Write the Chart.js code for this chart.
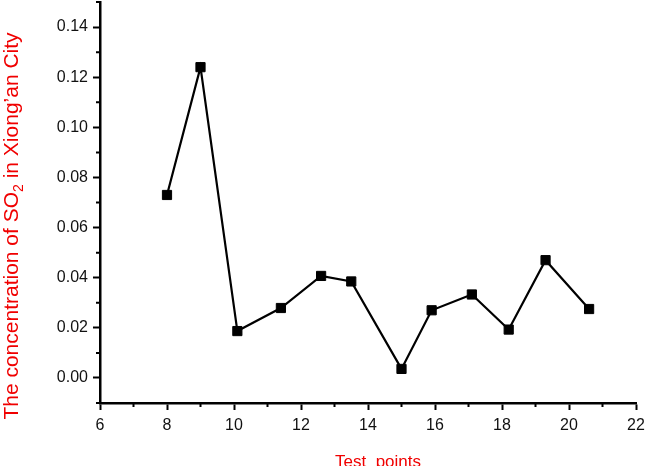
<!DOCTYPE html>
<html>
<head>
<meta charset="utf-8">
<script src="https://cdn.jsdelivr.net/npm/chart.js@4"></script>
<style>
  body { margin: 0; background: #fff; }
  canvas { display: block; }
</style>
</head>
<body>
<canvas id="so2Chart" width="649" height="466"></canvas>
<script>
// Data
const testPoints = [8, 9, 10.1, 11.4, 12.6, 13.5, 15, 15.9, 17.1, 18.2, 19.3, 20.6];
const so2Values = [0.073, 0.124, 0.0187, 0.0279, 0.0407, 0.0385, 0.0036, 0.027, 0.0333, 0.0193, 0.047, 0.0275];
const xTicks = [6, 8, 10, 12, 14, 16, 18, 20, 22];
const xMinorTicks = [7, 9, 11, 13, 15, 17, 19, 21];
const yTicks = [0, 0.02, 0.04, 0.06, 0.08, 0.10, 0.12, 0.14];
const yMinorTicks = [-0.01, 0.01, 0.03, 0.05, 0.07, 0.09, 0.11, 0.13, 0.15];

const FONT = "'Liberation Sans', Arial, sans-serif";
const RED = "#f00000";

// minor ticks + axis titles (the y title has a subscript)
const axisDecor = {
    id: "axisDecor",
    afterDraw(chart) {
        const { ctx, chartArea, scales: { x, y } } = chart;
        ctx.save();
        ctx.strokeStyle = "#000";
        ctx.lineWidth = 2;
        ctx.beginPath();
        xMinorTicks.forEach(v => {
            const px = x.getPixelForValue(v);
            ctx.moveTo(px, chartArea.bottom);
            ctx.lineTo(px, chartArea.bottom + 4);
        });
        yMinorTicks.forEach(v => {
            const py = y.getPixelForValue(v);
            ctx.moveTo(chartArea.left, py);
            ctx.lineTo(chartArea.left - 4, py);
        });
        ctx.stroke();

        // x title
        ctx.fillStyle = RED;
        ctx.font = "17px " + FONT;
        ctx.textAlign = "center";
        ctx.textBaseline = "alphabetic";
        ctx.fillText("Test  points", 378, 467);

        // y title, rotated
        const big = "21px " + FONT, small = "14px " + FONT;
        const parts = [["The concentration of SO", big, 0], ["2", small, 5], [" in Xiong\u2019an City", big, 0]];
        let total = 0;
        parts.forEach(p => { ctx.font = p[1]; total += ctx.measureText(p[0]).width; });
        ctx.translate(18, 226);
        ctx.rotate(-Math.PI / 2);
        ctx.textAlign = "left";
        let cx = -total / 2;
        parts.forEach(p => {
            ctx.font = p[1];
            ctx.fillText(p[0], cx, p[2]);
            cx += ctx.measureText(p[0]).width;
        });
        ctx.restore();
    }
};

new Chart(document.getElementById("so2Chart"), {
    type: "line",
    data: {
        datasets: [{
            data: testPoints.map((t, i) => ({ x: t, y: so2Values[i] })),
            borderColor: "#000",
            borderWidth: 2.2,
            pointStyle: "rect",
            pointRadius: 6.5,
            pointBorderWidth: 1,
            pointBackgroundColor: "#000",
            pointBorderColor: "#000",
            tension: 0
        }]
    },
    options: {
        responsive: false,
        animation: false,
        layout: { autoPadding: false, padding: { top: 2, right: 13, left: 0, bottom: 0 } },
        plugins: { legend: { display: false }, tooltip: { enabled: false } },
        scales: {
            x: {
                type: "linear",
                min: 6,
                max: 22,
                afterBuildTicks: s => { s.ticks = xTicks.map(v => ({ value: v })); },
                afterFit: s => { s.height = 63; s.paddingLeft = 0; s.paddingRight = 0; },
                ticks: { color: "#111", font: { size: 16, family: FONT }, padding: 6, maxRotation: 0 },
                grid: { drawOnChartArea: false, tickLength: 7, tickWidth: 2, tickColor: "#000" },
                border: { color: "#000", width: 2.5 }
            },
            y: {
                type: "linear",
                min: -0.01,
                max: 0.15,
                afterBuildTicks: s => { s.ticks = yTicks.map(v => ({ value: v })); },
                afterFit: s => { s.width = 100; s.paddingTop = 0; s.paddingBottom = 0; },
                ticks: { color: "#111", font: { size: 16, family: FONT }, padding: 5, callback: v => v.toFixed(2) },
                grid: { drawOnChartArea: false, tickLength: 7, tickWidth: 2, tickColor: "#000" },
                border: { color: "#000", width: 2.5 }
            }
        }
    },
    plugins: [axisDecor]
});
</script>
</body>
</html>
